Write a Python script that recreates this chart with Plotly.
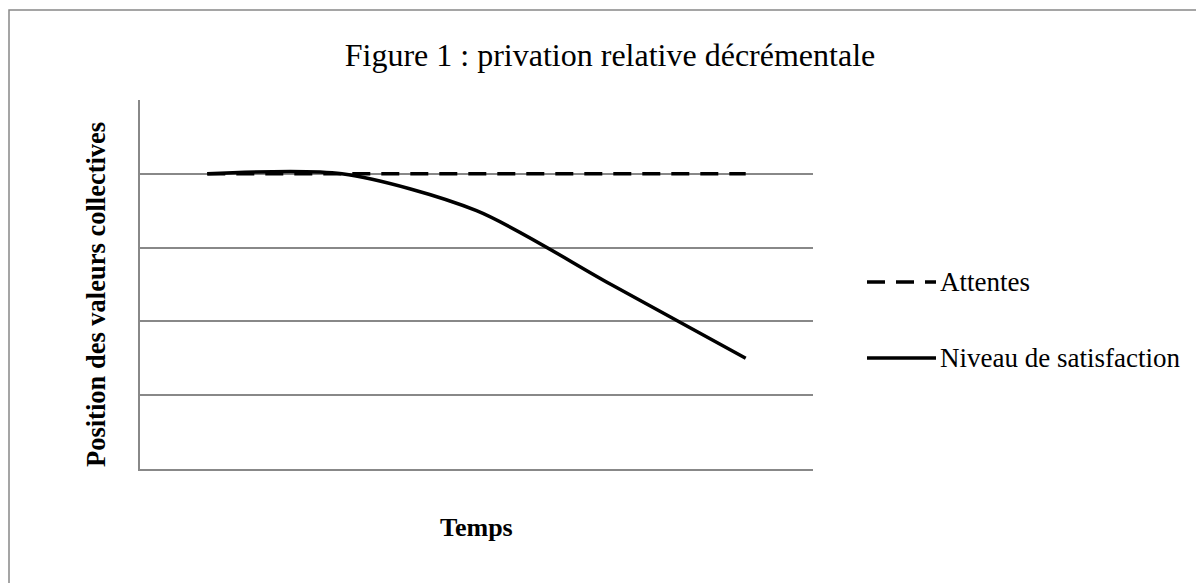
"""Privation relative décrémentale: attentes vs niveau de satisfaction."""

import plotly.graph_objects as go

# five unlabeled time steps
periods = [1, 2, 3, 4, 5]
attentes = [4, 4, 4, 4, 4]
satisfaction = [4, 4, 3.5, 2.5, 1.5]

SERIF = "Liberation Serif, Times New Roman, serif"
GRID = "#888888"
DASH = "18px,11px"

W, H = 1204, 583
OFF = 8  # page body margin: figure sits 8px right/down in the window
# plot area in window pixels: x 140..813, y 100..469
L, T = 140 - OFF, 100 - OFF
R, B = W - (813 - OFF), H - (469 - OFF)
PW, PH = W - L - R, H - T - B


def px_x(x):
    """Window pixel x -> paper coordinate."""
    return (x - OFF - L) / PW


def px_y(y):
    """Window pixel y -> paper coordinate."""
    return (H - B - (y - OFF)) / PH


fig = go.Figure()
fig.add_trace(go.Scatter(
    x=periods, y=attentes, mode="lines", name="Attentes",
    line=dict(color="black", width=3.5, dash=DASH),
))
fig.add_trace(go.Scatter(
    x=periods, y=satisfaction, mode="lines", name="Niveau de satisfaction",
    line=dict(color="black", width=3.5, shape="spline", smoothing=0.8),
))

# hand-made legend, Excel style (long line swatch + label)
legend_rows = [("Attentes", DASH, 282), ("Niveau de satisfaction", "solid", 358)]
for label, dash, ypx in legend_rows:
    fig.add_shape(type="line", xref="paper", yref="paper",
                  x0=px_x(867), x1=px_x(936), y0=px_y(ypx), y1=px_y(ypx),
                  line=dict(color="black", width=3.5, dash=dash))
    fig.add_annotation(text=label, xref="paper", yref="paper",
                       x=px_x(938), y=px_y(ypx), xanchor="left", yanchor="middle",
                       showarrow=False, font=dict(family=SERIF, size=27, color="black"))

# outer chart border (only top/left visible in the crop)
fig.add_shape(type="rect", xref="paper", yref="paper", layer="below",
              x0=px_x(9), x1=px_x(1300), y0=px_y(700), y1=px_y(10),
              line=dict(color=GRID, width=1.5))

fig.add_annotation(text="<b>Temps</b>", xref="paper", yref="paper",
                   x=0.5, y=px_y(527), xanchor="center", yanchor="middle",
                   showarrow=False, font=dict(family=SERIF, size=26, color="black"))
fig.add_annotation(text="<b>Position des valeurs collectives</b>", xref="paper", yref="paper",
                   x=px_x(96), y=px_y(295), xanchor="center", yanchor="middle", textangle=-90,
                   showarrow=False, font=dict(family=SERIF, size=26.5, color="black"))

fig.update_layout(
    width=W, height=H,
    margin=dict(l=L, r=R, t=T, b=B),
    paper_bgcolor="white", plot_bgcolor="white",
    showlegend=False,
    title=dict(text="Figure 1 : privation relative décrémentale",
               xref="container", yref="container",
               x=(610 - OFF) / W, y=1 - (55 - OFF) / H,
               xanchor="center", yanchor="middle",
               font=dict(family=SERIF, size=32, color="black")),
    xaxis=dict(range=[0.5, 5.5], showgrid=False, zeroline=False, showticklabels=False,
               ticks="", showline=True, linecolor=GRID, linewidth=1.5),
    yaxis=dict(range=[0, 5], dtick=1, showgrid=True, gridcolor=GRID, gridwidth=1.5,
               zeroline=False, showticklabels=False, ticks="",
               showline=True, linecolor=GRID, linewidth=1.5),
)

fig.write_html("out.html")
